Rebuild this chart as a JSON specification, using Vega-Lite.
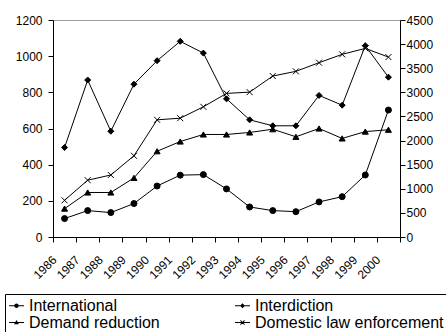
{
  "$schema": "https://vega.github.io/schema/vega-lite/v6.json",
  "width": 347,
  "height": 217,
  "autosize": {"type": "none"},
  "padding": {"left": 53, "top": 20, "right": 46, "bottom": 95},
  "config": {
    "font": "Liberation Sans",
    "view": {"stroke": "#a0a0a0", "strokeWidth": 1},
    "axis": {"domainColor": "black", "tickColor": "black", "labelColor": "black", "labelFontSize": 12, "grid": false, "title": null, "tickSize": 5},
    "legend": {
      "orient": "none", "legendX": -48, "legendY": 274,
      "direction": "horizontal", "columns": 2, "columnPadding": 72, "rowPadding": 0,
      "strokeColor": "black", "padding": 3,
      "labelFontSize": 16, "labelLimit": 300, "labelOffset": 4, "labelColor": "black",
      "symbolSize": 225, "symbolFillColor": "black"
    }
  },
  "data": {
    "values": [
      {"year": "1986", "series": "International", "value": 102},
      {"year": "1987", "series": "International", "value": 146},
      {"year": "1988", "series": "International", "value": 135},
      {"year": "1989", "series": "International", "value": 185},
      {"year": "1990", "series": "International", "value": 282},
      {"year": "1991", "series": "International", "value": 342},
      {"year": "1992", "series": "International", "value": 345},
      {"year": "1993", "series": "International", "value": 266},
      {"year": "1994", "series": "International", "value": 166},
      {"year": "1995", "series": "International", "value": 146},
      {"year": "1996", "series": "International", "value": 140},
      {"year": "1997", "series": "International", "value": 194},
      {"year": "1998", "series": "International", "value": 223},
      {"year": "1999", "series": "International", "value": 343},
      {"year": "2000", "series": "International", "value": 702},
      {"year": "1986", "series": "Interdiction", "value": 495},
      {"year": "1987", "series": "Interdiction", "value": 868},
      {"year": "1988", "series": "Interdiction", "value": 585},
      {"year": "1989", "series": "Interdiction", "value": 845},
      {"year": "1990", "series": "Interdiction", "value": 975},
      {"year": "1991", "series": "Interdiction", "value": 1082},
      {"year": "1992", "series": "Interdiction", "value": 1017},
      {"year": "1993", "series": "Interdiction", "value": 764},
      {"year": "1994", "series": "Interdiction", "value": 648},
      {"year": "1995", "series": "Interdiction", "value": 615},
      {"year": "1996", "series": "Interdiction", "value": 615},
      {"year": "1997", "series": "Interdiction", "value": 783},
      {"year": "1998", "series": "Interdiction", "value": 729},
      {"year": "1999", "series": "Interdiction", "value": 1058},
      {"year": "2000", "series": "Interdiction", "value": 884},
      {"year": "1986", "series": "Demand reduction", "value": 589},
      {"year": "1987", "series": "Demand reduction", "value": 923},
      {"year": "1988", "series": "Demand reduction", "value": 923},
      {"year": "1989", "series": "Demand reduction", "value": 1226},
      {"year": "1990", "series": "Demand reduction", "value": 1778},
      {"year": "1991", "series": "Demand reduction", "value": 1980},
      {"year": "1992", "series": "Demand reduction", "value": 2126},
      {"year": "1993", "series": "Demand reduction", "value": 2126},
      {"year": "1994", "series": "Demand reduction", "value": 2168},
      {"year": "1995", "series": "Demand reduction", "value": 2235},
      {"year": "1996", "series": "Demand reduction", "value": 2078},
      {"year": "1997", "series": "Demand reduction", "value": 2250},
      {"year": "1998", "series": "Demand reduction", "value": 2044},
      {"year": "1999", "series": "Demand reduction", "value": 2186},
      {"year": "2000", "series": "Demand reduction", "value": 2224},
      {"year": "1986", "series": "Domestic law enforcement", "value": 761},
      {"year": "1987", "series": "Domestic law enforcement", "value": 1178},
      {"year": "1988", "series": "Domestic law enforcement", "value": 1286},
      {"year": "1989", "series": "Domestic law enforcement", "value": 1684},
      {"year": "1990", "series": "Domestic law enforcement", "value": 2430},
      {"year": "1991", "series": "Domestic law enforcement", "value": 2464},
      {"year": "1992", "series": "Domestic law enforcement", "value": 2700},
      {"year": "1993", "series": "Domestic law enforcement", "value": 2978},
      {"year": "1994", "series": "Domestic law enforcement", "value": 3004},
      {"year": "1995", "series": "Domestic law enforcement", "value": 3338},
      {"year": "1996", "series": "Domestic law enforcement", "value": 3435},
      {"year": "1997", "series": "Domestic law enforcement", "value": 3615},
      {"year": "1998", "series": "Domestic law enforcement", "value": 3788},
      {"year": "1999", "series": "Domestic law enforcement", "value": 3911},
      {"year": "2000", "series": "Domestic law enforcement", "value": 3731}
    ]
  },
  "encoding": {
    "x": {
      "field": "year", "type": "ordinal",
      "scale": {"type": "band", "paddingInner": 0, "paddingOuter": 0},
      "axis": {"labelAngle": -45, "tickBand": "extent", "labelOffset": -14, "labelPadding": 12}
    }
  },
  "layer": [
    {
      "transform": [{"filter": "datum.series === 'International' || datum.series === 'Interdiction'"}],
      "encoding": {
        "y": {
          "field": "value", "type": "quantitative",
          "scale": {"domain": [0, 1200], "nice": false},
          "axis": {"orient": "left", "values": [0, 200, 400, 600, 800, 1000, 1200], "labelPadding": 6, "format": "d"}
        }
      },
      "layer": [
        {"mark": {"type": "line", "color": "black", "strokeWidth": 1}, "encoding": {"detail": {"field": "series"}}},
        {
          "mark": {"type": "point", "filled": true, "fill": "black", "stroke": "black", "strokeWidth": 1, "size": 36, "opacity": 1},
          "encoding": {
            "shape": {
              "field": "series", "type": "nominal",
              "scale": {"domain": ["International", "Interdiction", "Demand reduction", "Domestic law enforcement"], "range": ["circle", "diamond", "triangle-up", "M-1,-1L1,1M-1,1L1,-1"]},
              "legend": null
            }
          }
        }
      ]
    },
    {
      "transform": [{"filter": "datum.series === 'Demand reduction' || datum.series === 'Domestic law enforcement'"}],
      "encoding": {
        "y": {
          "field": "value", "type": "quantitative",
          "scale": {"domain": [0, 4500], "nice": false},
          "axis": {"orient": "right", "values": [0, 500, 1000, 1500, 2000, 2500, 3000, 3500, 4000, 4500], "labelPadding": 1, "format": "d"}
        }
      },
      "layer": [
        {"mark": {"type": "line", "color": "black", "strokeWidth": 1}, "encoding": {"detail": {"field": "series"}}},
        {
          "mark": {"type": "point", "filled": true, "fill": "black", "stroke": "black", "strokeWidth": 1, "size": 36, "opacity": 1},
          "encoding": {
            "shape": {
              "field": "series", "type": "nominal",
              "scale": {"domain": ["International", "Interdiction", "Demand reduction", "Domestic law enforcement"], "range": ["circle", "diamond", "triangle-up", "M-1,-1L1,1M-1,1L1,-1"]},
              "legend": null
            }
          }
        }
      ]
    },
    {
      "transform": [{"filter": "datum.year === '1986'"}],
      "mark": {"type": "point", "filled": true, "fill": "black", "opacity": 0},
      "encoding": {
        "shape": {
          "field": "series", "type": "nominal",
          "scale": {
            "domain": ["International", "Interdiction", "Demand reduction", "Domestic law enforcement"],
            "range": [
              "M-1,-0.06H1V0.06H-1ZM0.3,0A0.3,0.3,0,1,1,-0.3,0A0.3,0.3,0,1,1,0.3,0Z",
              "M-1,-0.06H1V0.06H-1ZM0,-0.32L0.32,0L0,0.32L-0.32,0Z",
              "M-1,-0.06H1V0.06H-1ZM0,-0.35L0.33,0.22L-0.33,0.22Z",
              "M-1,-0.06H1V0.06H-1ZM-0.24,-0.32L0.32,0.24L0.24,0.32L-0.32,-0.24ZM-0.32,0.24L0.24,-0.32L0.32,-0.24L-0.24,0.32Z"
            ]
          },
          "legend": {"title": null}
        }
      }
    }
  ],
  "resolve": {"scale": {"y": "independent", "shape": "independent"}}
}
